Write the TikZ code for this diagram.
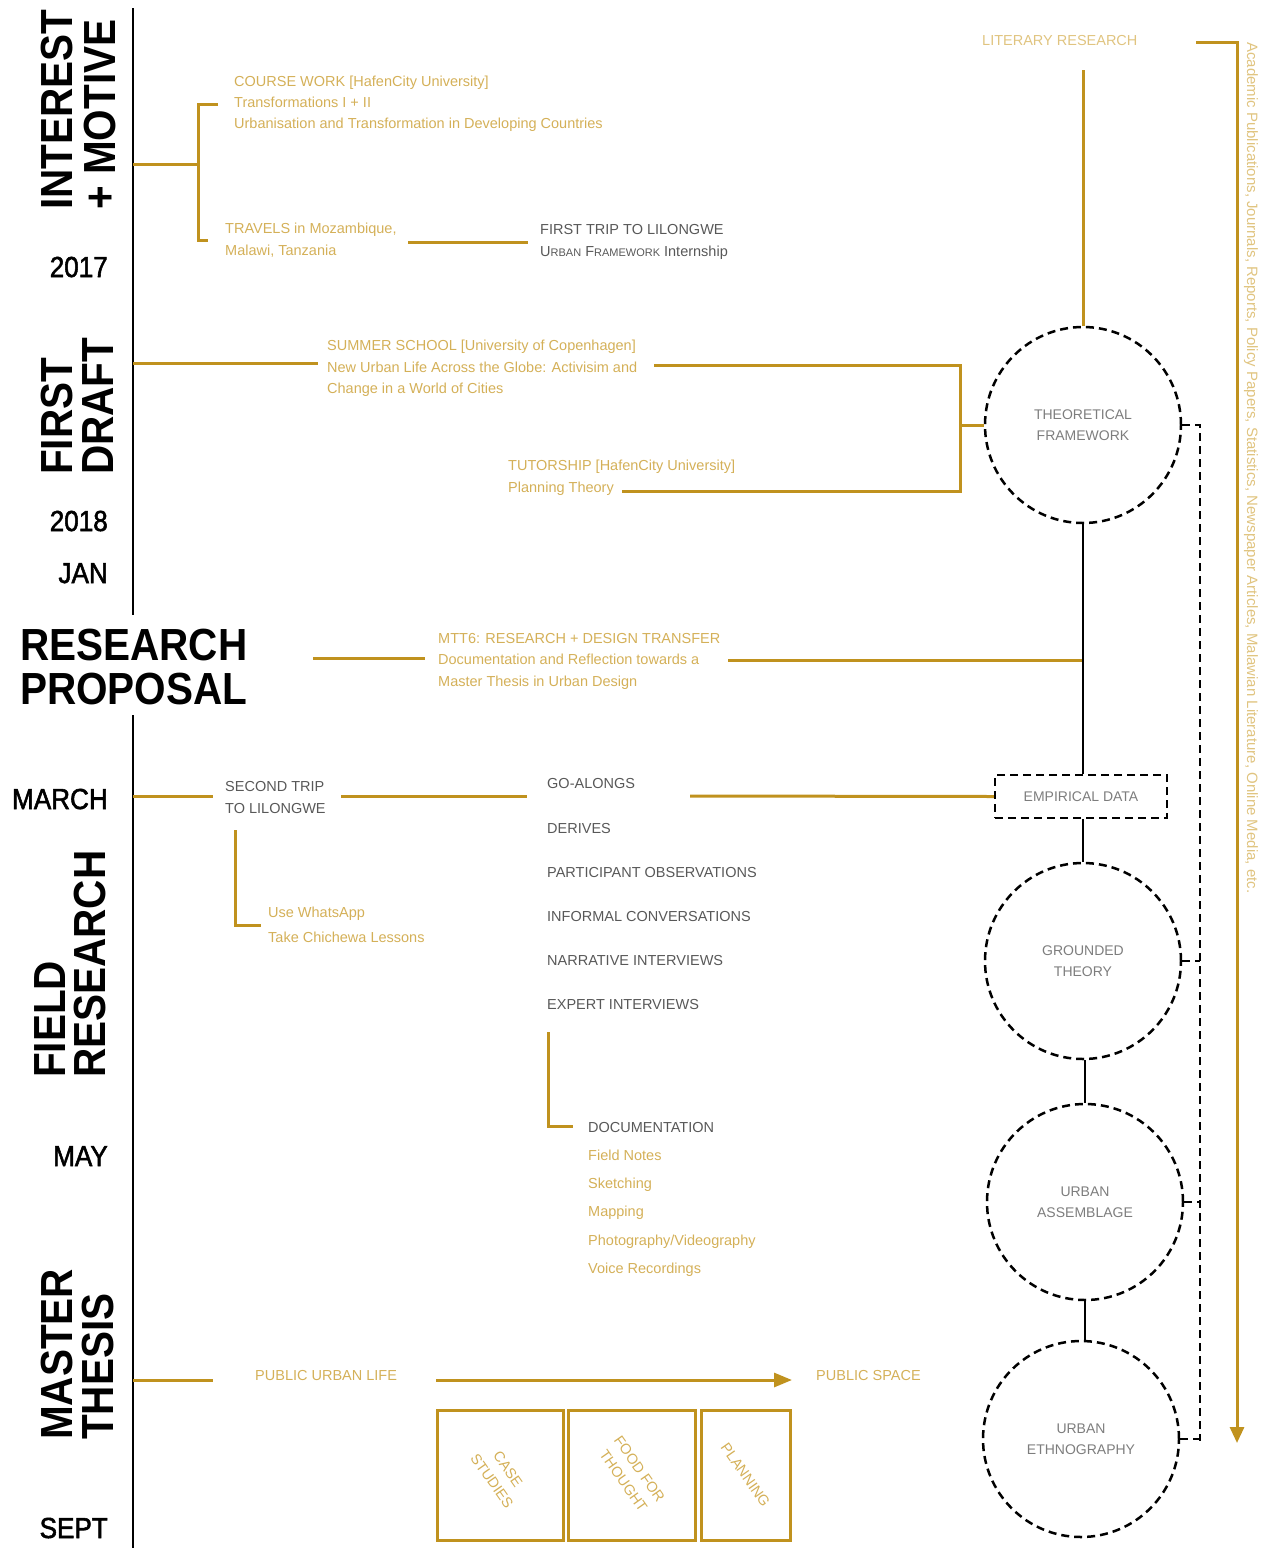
\documentclass[tikz,border=0pt]{standalone}
\usepackage{fontspec}
\setmainfont{Liberation Sans}
\newfontfamily\hdfont[FakeStretch=0.9]{Liberation Sans}
\newfontfamily\yrfont[FakeStretch=0.9,FakeBold=1.8]{Liberation Sans}
\usetikzlibrary{arrows.meta,calc}
\definecolor{gline}{RGB}{192,146,30}
\definecolor{gtext}{RGB}{212,176,88}
\definecolor{gtextl}{RGB}{224,196,128}
\definecolor{dtext}{RGB}{88,88,88}
\definecolor{ctext}{RGB}{125,125,125}
\begin{document}
\begin{tikzpicture}[x=1pt,y=-1pt,
  gl/.style={draw=gline, line width=3pt},
  bl/.style={draw=black, line width=2.5pt},
  dsh/.style={draw=black, line width=2.5pt, dash pattern=on 8pt off 5pt},
  hd/.style={font=\hdfont\bfseries\fontsize{45}{45}\selectfont, inner sep=0pt, anchor=base west, text=black},
  yr/.style={font=\yrfont\fontsize{29}{29}\selectfont, inner sep=0pt, anchor=base east, text=black},
  gt/.style={font=\fontsize{14.5}{17}\selectfont, inner sep=0pt, anchor=base west, text=gtext},
  dt/.style={font=\fontsize{14.5}{17}\selectfont, inner sep=0pt, anchor=base west, text=dtext},
  circ/.style={circle, dsh, minimum size=196pt, inner sep=0pt, text=ctext, align=center, font=\fontsize{14}{21}\selectfont},
  goldbox/.style={draw=gline, line width=3pt, rectangle, inner sep=0pt, minimum height=130pt},
  boxtext/.style={text=gtext, rotate=-55, inner sep=0pt, font=\fontsize{14.5}{20}\selectfont}
]
\useasboundingbox (0,0) rectangle (1263,1548);

% ---------- timeline ----------
\coordinate (tlTop) at (133,8);
\coordinate (tlA) at (133,615);
\coordinate (tlB) at (133,715);
\coordinate (tlBot) at (133,1548);
\draw[bl] (tlTop) -- (tlA);
\draw[bl] (tlB) -- (tlBot);

% ---------- left labels ----------
\node[hd, rotate=90] (hInterest) at (72,210) {INTEREST};
\node[hd, rotate=90] (hMotive) at (115,210) {+ MOTIVE};
\node[yr] (y2017) at (108,277) {2017};
\node[hd, rotate=90] (hFirst) at (72,475) {FIRST};
\node[hd, rotate=90] (hDraft) at (113,475) {DRAFT};
\node[yr] (y2018) at (108,531) {2018};
\node[yr] (yJan) at (108,583) {JAN};
\node[hd] (hResearch) at (20,660) {RESEARCH};
\node[hd] (hProposal) at (20,704) {PROPOSAL};
\node[yr] (yMarch) at (108,809) {MARCH};
\node[hd, rotate=90] (hField) at (65,1078) {FIELD};
\node[hd, rotate=90] (hResearchB) at (105,1078) {RESEARCH};
\node[yr] (yMay) at (108,1166) {MAY};
\node[hd, rotate=90] (hMaster) at (72,1440) {MASTER};
\node[hd, rotate=90] (hThesis) at (113,1440) {THESIS};
\node[yr] (ySept) at (108,1538) {SEPT};

% ---------- interest + motive ----------
\node[gt] (cw1) at (234,86) {COURSE WORK [HafenCity University]};
\node[gt] (cw2) at (234,107) {Transformations I + II};
\node[gt] (cw3) at (234,128) {Urbanisation and Transformation in Developing Countries};
\node[gt] (tr1) at (225,233) {TRAVELS in Mozambique,};
\node[gt] (tr2) at (225,255) {Malawi, Tanzania};
\node[dt] (ft1) at (540,234) {FIRST TRIP TO LILONGWE};
\node[dt] (ft2) at (540,256) {U{\fontsize{11}{13}\selectfont RBAN} F{\fontsize{11}{13}\selectfont RAMEWORK} Internship};

\coordinate (b1m) at (133,164);
\coordinate (b1x) at (198,164);
\coordinate (b1t) at (218,104);
\coordinate (b1b) at (208,240);
\draw[gl] (b1m) -- (b1x);
\draw[gl] (b1t) -- (b1t -| b1x) -- (b1b -| b1x) -- (b1b);
\coordinate (trA) at (408,242);
\coordinate (trB) at (528,242);
\draw[gl] (trA) -- (trB);

% ---------- first draft ----------
\node[gt] (ss1) at (327,350) {SUMMER SCHOOL [University of Copenhagen]};
\node[gt] (ss2) at (327,372) {New Urban Life Across the Globe: Activisim and};
\node[gt] (ss3) at (327,393) {Change in a World of Cities};
\node[gt] (tu1) at (508,470) {TUTORSHIP [HafenCity University]};
\node[gt] (tu2) at (508,492) {Planning Theory};

\node[circ] (theo) at (1083,425) {THEORETICAL\\FRAMEWORK};

\coordinate (ssA) at (133,363);
\coordinate (ssB) at (318,363);
\coordinate (ssC) at (654,365);
\coordinate (brk) at (960,425);
\coordinate (tuA) at (622,491);
\draw[gl] (ssA) -- (ssB);
\draw[gl] (ssC) -| (brk) |- (tuA);
\draw[gl] (brk) -- (theo.west);

% ---------- literary research ----------
\node[gt, text=gtextl] (lit) at (982,45) {LITERARY RESEARCH};
\coordinate (litDrop) at (1083,70);
\draw[gl] (litDrop) -- (theo.north);
\coordinate (litR) at (1196,42);
\coordinate (arrTop) at (1237,42);
\coordinate (arrEnd) at (1237,1443);
\draw[gl, -{Triangle[length=16pt,width=14pt]}] (litR) -- (arrTop) -- (arrEnd);
\node[gt, text=gtextl, rotate=-90, font=\fontsize{15}{17}\selectfont] (acad) at (1247,42) {Academic Publications, Journals, Reports, Policy Papers, Statistics, Newspaper Articles, Malawian Literature, Online Media, etc.};

% ---------- research proposal ----------
\node[gt] (mt1) at (438,643) {MTT6: RESEARCH + DESIGN TRANSFER};
\node[gt] (mt2) at (438,664) {Documentation and Reflection towards a};
\node[gt] (mt3) at (438,686) {Master Thesis in Urban Design};
\coordinate (rpA) at (313,658);
\coordinate (rpB) at (425,658);
\coordinate (rpC) at (728,660);
\coordinate (rpD) at (1083,660);
\draw[gl] (rpA) -- (rpB);
\draw[gl] (rpC) -- (rpD);

% ---------- field research ----------
\node[draw=black, line width=2.5pt, dash pattern=on 8pt off 5pt, rectangle, minimum width=172pt, minimum height=43pt, inner sep=0pt, text=ctext, font=\fontsize{14}{17}\selectfont] (emp) at (1081,796.5) {EMPIRICAL DATA};
\draw[bl] (theo.south) -- (theo.south |- emp.north);

\node[dt] (st1) at (225,791) {SECOND TRIP};
\node[dt] (st2) at (225,813) {TO LILONGWE};
\node[dt] (ga) at (547,788) {GO-ALONGS};
\node[dt] (de) at (547,833) {DERIVES};
\node[dt] (po) at (547,877) {PARTICIPANT OBSERVATIONS};
\node[dt] (ic) at (547,921) {INFORMAL CONVERSATIONS};
\node[dt] (ni) at (547,965) {NARRATIVE INTERVIEWS};
\node[dt] (ei) at (547,1009) {EXPERT INTERVIEWS};
\node[gt] (wa1) at (268,917) {Use WhatsApp};
\node[gt] (wa2) at (268,942) {Take Chichewa Lessons};

\coordinate (fA) at (133,796);
\coordinate (fB) at (213,796);
\coordinate (fC) at (341,796);
\coordinate (fD) at (527,796);
\coordinate (fE) at (690,796);
\draw[gl] (fA) -- (fB);
\draw[gl] (fC) -- (fD);
\draw[gl] (fE) -- (emp.west);
\coordinate (waTop) at (235,830);
\coordinate (waEnd) at (261,925);
\draw[gl] (waTop) |- (waEnd);

\node[dt] (doc) at (588,1132) {DOCUMENTATION};
\node[gt] (dn1) at (588,1160) {Field Notes};
\node[gt] (dn2) at (588,1188) {Sketching};
\node[gt] (dn3) at (588,1216) {Mapping};
\node[gt] (dn4) at (588,1245) {Photography/Videography};
\node[gt] (dn5) at (588,1273) {Voice Recordings};
\coordinate (dcTop) at (548,1032);
\coordinate (dcEnd) at (573,1126);
\draw[gl] (dcTop) |- (dcEnd);

% ---------- circles ----------
\node[circ] (ground) at (1083,961) {GROUNDED\\THEORY};
\node[circ] (assem) at (1085,1202) {URBAN\\ASSEMBLAGE};
\node[circ] (ethno) at (1081,1439) {URBAN\\ETHNOGRAPHY};
\draw[bl] (ground.north) -- (ground.north |- emp.south);
\draw[bl] (assem.north) -- (assem.north |- ground.south);
\draw[bl] (assem.south) -- (assem.south |- ethno.north);

\coordinate (dBot) at (1200,1441);
\draw[dsh] (theo.east) -| (dBot);
\draw[dsh] (ground.east) -- (ground.east -| dBot);
\draw[dsh] (assem.east) -- (assem.east -| dBot);
\draw[dsh] (ethno.east) -- (ethno.east -| dBot);

% ---------- master thesis ----------
\node[gt] (pul) at (255,1380) {PUBLIC URBAN LIFE};
\node[gt] (psp) at (816,1380) {PUBLIC SPACE};
\coordinate (mA) at (133,1380);
\coordinate (mB) at (213,1380);
\coordinate (pA) at (436,1380);
\coordinate (pB) at (792,1380);
\draw[gl] (mA) -- (mB);
\draw[gl, -{Triangle[length=18pt,width=14pt]}] (pA) -- (pB);

\node[goldbox, minimum width=126pt] (box1) at (500,1475) {};
\node[goldbox, minimum width=127pt] (box2) at (631.5,1475) {};
\node[goldbox, minimum width=89pt] (box3) at (745.5,1475) {};
\node[boxtext] (bt1a) at ($(box1)+(8,-6)$) {CASE};
\node[boxtext] (bt1b) at ($(box1)+(-8,6)$) {STUDIES};
\node[boxtext] (bt2a) at ($(box2)+(8,-6)$) {FOOD FOR};
\node[boxtext] (bt2b) at ($(box2)+(-8,6)$) {THOUGHT};
\node[boxtext] (bt3) at (box3) {PLANNING};
\end{tikzpicture}
\end{document}
